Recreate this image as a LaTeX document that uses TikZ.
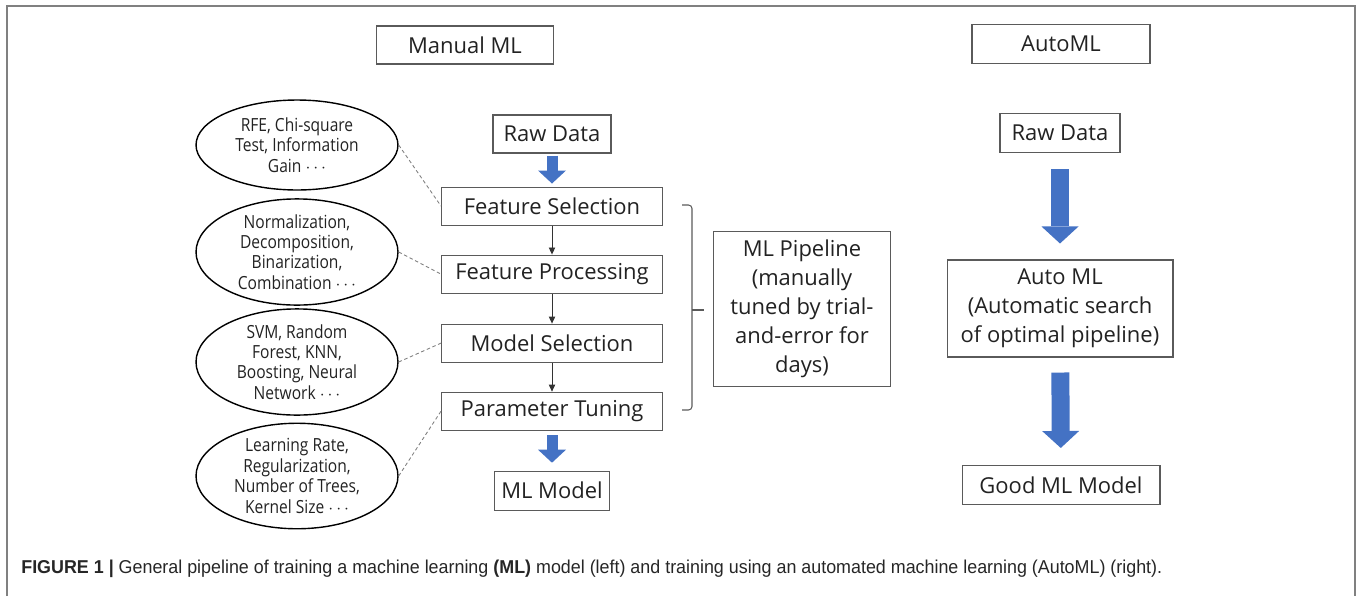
\documentclass[tikz,border=0pt]{standalone}
\usepackage{fontspec}
\setmainfont{Open Sans}
\newfontfamily\capfont[FakeStretch=0.96]{Liberation Sans}
\newfontfamily\ovalface[FakeStretch=0.86]{Open Sans}
\usetikzlibrary{arrows.meta, positioning, shapes.geometric}

\definecolor{arrowblue}{HTML}{4472C4}
\definecolor{boxgray}{HTML}{5A5A5A}
\definecolor{framegray}{HTML}{808080}
\definecolor{textdark}{HTML}{222222}

\begin{document}
\begin{tikzpicture}[x=0.02cm, y=-0.02cm,
    box/.style={draw=boxgray, line width=0.6pt, text=textdark, inner sep=0pt, align=center, font=\fontsize{12.5}{16.5}\selectfont},
    oval/.style={draw, ellipse, line width=0.8pt, minimum width=4.04cm, minimum height=1.8cm, inner sep=0pt, align=center, text=textdark, font=\ovalface\fontsize{10.3}{11.6}\selectfont},
    link/.style={draw=gray, line width=0.5pt, dash pattern=on 2pt off 1.5pt},
    flow/.style={-{Triangle[length=4pt, width=3.6pt]}, line width=0.5pt, draw=black!80},
    fat/.style={-{Triangle[length=0.26cm, width=0.56cm, line width=0pt]}, line width=0.22cm, draw=arrowblue},
    fatter/.style={-{Triangle[length=0.34cm, width=0.74cm, line width=0pt]}, line width=0.36cm, draw=arrowblue},
    brace/.style={draw=boxgray, line width=0.6pt, rounded corners=2pt}]
  \useasboundingbox (0,0) rectangle (1360,596);
  % frame
  \draw[framegray, line width=1.2pt] (7,596) -- (7,6) -- (1355,6) -- (1355,596);

  % manual pipeline
  \node[box, minimum width=3.54cm, minimum height=0.76cm] (manual) at (465,45) {Manual ML};
  \node[box, minimum width=2.36cm, minimum height=0.76cm] (rawL) at (552,134) {Raw Data};
  \node[box, minimum width=4.42cm, minimum height=0.76cm, below=0.66cm of rawL] (fs) {Feature Selection};
  \node[box, minimum width=4.42cm, minimum height=0.76cm, below=0.58cm of fs] (fp) {Feature Processing};
  \node[box, minimum width=4.42cm, minimum height=0.76cm, below=0.6cm of fp] (ms) {Model Selection};
  \node[box, minimum width=4.42cm, minimum height=0.76cm, below=0.58cm of ms] (pt) {Parameter Tuning};
  \node[box, minimum width=2.3cm, minimum height=0.78cm, below=0.8cm of pt] (mlmodel) {ML Model};
  \draw[fat, shorten <=0.04cm, shorten >=0.06cm] (rawL) -- (fs);
  \draw[flow] (fs) -- (fp);
  \draw[flow] (fp) -- (ms);
  \draw[flow] (ms) -- (pt);
  \draw[fat, shorten <=0.09cm, shorten >=0.16cm] (pt) -- (mlmodel);

  % methods
  \node[oval] (e1) at (297,145) {RFE, Chi-square\\Test, Information\\Gain $\cdots$};
  \node[oval] (e2) at (297,252) {Normalization,\\Decomposition,\\Binarization,\\Combination $\cdots$};
  \node[oval] (e3) at (297,362) {SVM, Random\\Forest, KNN,\\Boosting, Neural\\Network $\cdots$};
  \node[oval] (e4) at (297,476) {Learning Rate,\\Regularization,\\Number of Trees,\\Kernel Size $\cdots$};
  \draw[link] (e1.east) -- (fs.west);
  \draw[link] (e2.east) -- (fp.west);
  \draw[link] (e3.east) -- (ms.west);
  \draw[link] (e4.east) -- (pt.west);

  % brace
  \draw[brace] (682,205) -- (692,205) -- (692,410) -- (682,410);
  \draw[brace] (692,310) -- (704,310);
  \node[box, minimum width=3.54cm, minimum height=3.1cm] (pipe) at (802,309) {ML Pipeline\\(manually\\tuned by trial-\\and-error for\\days)};

  % AutoML
  \node[box, minimum width=3.56cm, minimum height=0.78cm] (autohead) at (1061,44) {AutoML};
  \node[box, minimum width=2.4cm, minimum height=0.78cm] (rawR) at (1060,133) {Raw Data};
  \node[box, minimum width=4.52cm, minimum height=1.94cm] (auto) at (1060,308.5) {Auto ML\\(Automatic search\\of optimal pipeline)};
  \node[box, minimum width=3.96cm, minimum height=0.78cm] (good) at (1061,485) {Good ML Model};
  \draw[fatter, shorten <=0.32cm, shorten >=0.32cm] (rawR) -- (auto);
  \draw[fatter, shorten <=0.3cm, shorten >=0.34cm] (auto) -- (good);

  % caption
  \node[anchor=west, inner sep=0pt, text=black!85, font=\capfont\fontsize{10.6}{12}\selectfont] (caption) at (21,569)
    {\textbf{FIGURE 1 |} General pipeline of training a machine learning \textbf{(ML)} model (left) and training using an automated machine learning (AutoML) (right).};
\end{tikzpicture}
\end{document}
